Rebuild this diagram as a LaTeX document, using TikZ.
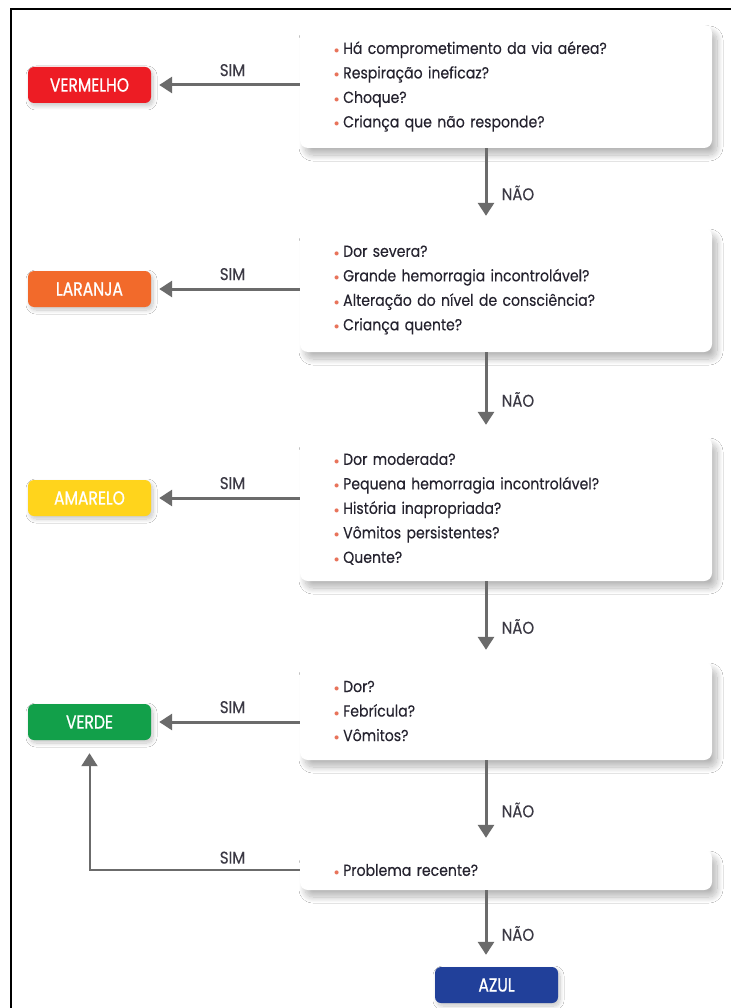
\documentclass[tikz,border=0pt]{standalone}
\usepackage{fontspec}
\setmainfont{Poppins}[FakeStretch=0.88, FakeBold=0.25]
\newfontfamily\tagfont{Poppins}[FakeStretch=0.82, FakeBold=0.8]
\usetikzlibrary{positioning,arrows.meta,shadows.blur}

\definecolor{vermelho}{HTML}{ED1C24}
\definecolor{laranja}{HTML}{F26A2B}
\definecolor{amarelo}{HTML}{FFD41C}
\definecolor{verde}{HTML}{12A04A}
\definecolor{azul}{HTML}{21409A}
\definecolor{seta}{HTML}{6B6B6B}
\definecolor{txt}{HTML}{25232F}
\definecolor{bulc}{HTML}{E8735A}

\newcommand{\bul}{\textcolor{bulc}{\raisebox{0.5pt}{\scalebox{0.6}{$\bullet$}}}\hspace{4pt}}

\tikzset{
  qbox/.style={fill=white, rounded corners=8pt,
    blur shadow={shadow xshift=5pt, shadow yshift=-7pt, shadow opacity=28,
      shadow blur radius=6pt, shadow blur steps=20},
    text width=344pt, inner xsep=34pt, align=left, text=txt,
    font=\fontsize{16}{24.5}\selectfont},
  tag/.style={fill=#1, rounded corners=6pt, minimum width=123pt, minimum height=36pt,
    blur shadow={shadow xshift=2pt, shadow yshift=-3pt, shadow opacity=22,
      shadow blur radius=4pt, shadow blur steps=12},
    text=white, font=\tagfont\fontsize{19}{19}\selectfont},
  arr/.style={draw=seta, line width=3pt, -{Triangle[width=16pt,length=13pt]}},
  lbl/.style={text=txt!90, font=\fontsize{17}{17}\selectfont}
}

\begin{document}
\begin{tikzpicture}[x=1pt, y=-1pt]
  \useasboundingbox (0,0) rectangle (731,1008);
  \fill[white] (0,0) rectangle (731,1008);
  \draw[line width=2pt] (11,1008) -- (11,9) -- (731,9);

  % perguntas
  \node[qbox, minimum height=123pt] (q1) at (506,86.5) {\bul Há comprometimento da via aérea?\\
    \bul Respiração ineficaz?\\ \bul Choque?\\ \bul Criança que não responde?};
  \node[qbox, minimum height=124pt] (q2) at (506,290) {\bul Dor severa?\\
    \bul Grande hemorragia incontrolável?\\ \bul Alteração do nível de consciência?\\ \bul Criança quente?};
  \node[qbox, minimum height=144pt] (q3) at (506,509) {\bul Dor moderada?\\
    \bul Pequena hemorragia incontrolável?\\ \bul História inapropriada?\\
    \bul Vômitos persistentes?\\ \bul Quente?};
  \node[qbox, minimum height=98pt] (q4) at (506,711) {\bul Dor?\\ \bul Febrícula?\\ \bul Vômitos?};
  \node[qbox, minimum height=40pt] (q5) at (506,870) {\bul Problema recente?};

  % cores
  \node[tag=vermelho] (verm) at (89.5,85) {VERMELHO};
  \node[tag=laranja] (lar) at (89.5,289) {LARANJA};
  \node[tag=amarelo] (ama) at (89.5,498) {AMARELO};
  \node[tag=verde] (verde) at (89.5,722) {VERDE};
  \node[tag=azul] (azul) at (496.5,985) {AZUL};

  \coordinate (col) at (486,0);

  % SIM
  \draw[arr, shorten >=8pt] (q1.west |- verm.east) -- node[lbl, above=4pt, xshift=7pt] {SIM} (verm.east);
  \draw[arr, shorten >=8pt] (q2.west |- lar.east) -- node[lbl, above=4pt, xshift=7pt] {SIM} (lar.east);
  \draw[arr, shorten >=8pt] (q3.west |- ama.east) -- node[lbl, above=4pt, xshift=7pt] {SIM} (ama.east);
  \draw[arr, shorten >=8pt] (q4.west |- verde.east) -- node[lbl, above=4pt, xshift=7pt] {SIM} (verde.east);
  \draw[arr, line width=2pt, shorten >=13pt] (q5.west) -| node[lbl, pos=0.16, above=2pt] {SIM} (verde.south);

  % NAO
  \draw[arr, shorten >=12pt] (q1.south -| col) -- node[lbl, right=11pt, yshift=-5pt] {NÃO} (q2.north -| col);
  \draw[arr, shorten >=12pt] (q2.south -| col) -- node[lbl, right=11pt, yshift=-5pt] {NÃO} (q3.north -| col);
  \draw[arr, shorten >=12pt] (q3.south -| col) -- node[lbl, right=11pt, yshift=-5pt] {NÃO} (q4.north -| col);
  \draw[arr, shorten >=12pt] (q4.south -| col) -- node[lbl, right=11pt, yshift=-5pt] {NÃO} (q5.north -| col);
  \draw[arr, shorten >=12pt] (q5.south -| col) -- node[lbl, right=11pt, yshift=-5pt] {NÃO} (azul.north -| col);
\end{tikzpicture}
\end{document}
